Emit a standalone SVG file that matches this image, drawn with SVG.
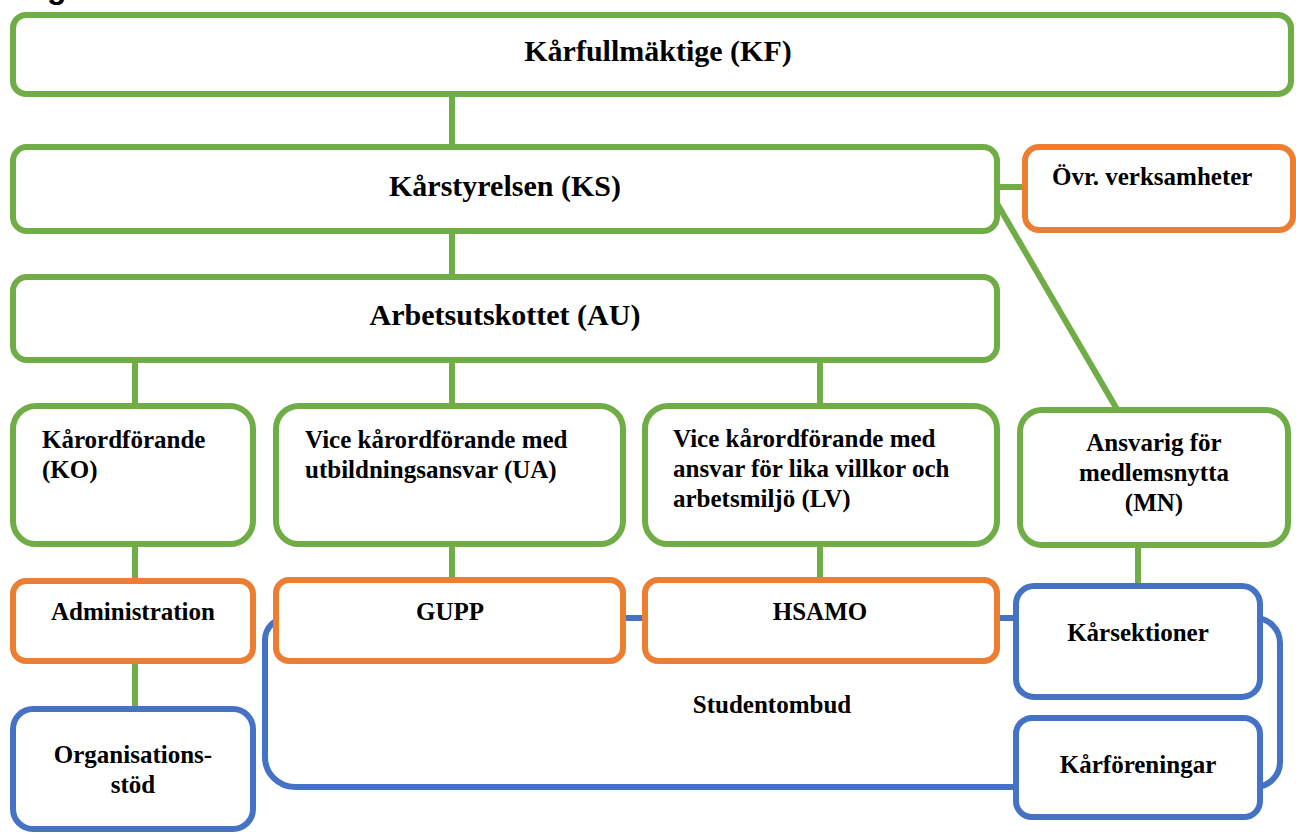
<svg xmlns="http://www.w3.org/2000/svg" width="1296" height="834" viewBox="0 0 1296 834">
<style>
.g{fill:#fff;stroke:#70AD47;stroke-width:6}
.o{fill:#fff;stroke:#ED7D31;stroke-width:6}
.b{fill:#fff;stroke:#4472C4;stroke-width:6}
.cg{fill:none;stroke:#70AD47;stroke-width:6}
.cb{fill:none;stroke:#4472C4;stroke-width:6}
text{font-family:"Liberation Serif","Times New Roman",serif;font-weight:bold;fill:#000;font-size:25px}
.big{font-size:30px}
.m{text-anchor:middle}
</style>
<text x="47" y="-2" style="font-family:'Liberation Sans',Arial,sans-serif;font-size:32px">g</text>
<g id="connectors">
<line class="cg" x1="452" y1="94" x2="452" y2="147"/>
<line class="cg" x1="452" y1="231" x2="452" y2="277"/>
<line class="cg" x1="135" y1="360" x2="135" y2="406"/>
<line class="cg" x1="452" y1="360" x2="452" y2="406"/>
<line class="cg" x1="820" y1="360" x2="820" y2="406"/>
<line class="cg" x1="997" y1="187" x2="1025" y2="187"/>
<line class="cg" x1="995" y1="200" x2="1118" y2="411"/>
<line class="cg" x1="135" y1="544" x2="135" y2="581"/>
<line class="cg" x1="135" y1="661" x2="135" y2="709"/>
<line class="cg" x1="452" y1="544" x2="452" y2="580"/>
<line class="cg" x1="820" y1="544" x2="820" y2="580"/>
<line class="cg" x1="1138" y1="545" x2="1138" y2="586"/>
<line class="cb" x1="623" y1="618" x2="645" y2="618"/>
<line class="cb" x1="997" y1="618" x2="1016" y2="618"/>
<path class="cb" d="M287,618 A22,22 0 0 0 265,640 L265,757 A30,30 0 0 0 295,787 L1016,787"/>
<path class="cb" d="M1250,618 L1255,618 A25,25 0 0 1 1280,643 L1280,762 A25,25 0 0 1 1255,787 L1250,787"/>
</g>
<g id="kf"><rect class="g" x="13" y="15" width="1278" height="79" rx="13"/><text class="big m" x="658" y="61">Kårfullmäktige (KF)</text></g>
<g id="ks"><rect class="g" x="13" y="147" width="984" height="84" rx="14"/><text class="big m" x="505" y="196">Kårstyrelsen (KS)</text></g>
<g id="ovr"><rect class="o" x="1025" y="147" width="268" height="83" rx="14"/><text x="1052" y="185">Övr. verksamheter</text></g>
<g id="au"><rect class="g" x="13" y="277" width="984" height="83" rx="14"/><text class="big m" x="505" y="325">Arbetsutskottet (AU)</text></g>
<g id="ko"><rect class="g" x="13" y="406" width="240" height="138" rx="23"/><text x="42" y="448">Kårordförande</text><text x="42" y="478">(KO)</text></g>
<g id="ua"><rect class="g" x="276" y="406" width="347" height="138" rx="23"/><text x="305" y="448">Vice kårordförande med</text><text x="305" y="478">utbildningsansvar (UA)</text></g>
<g id="lv"><rect class="g" x="645" y="406" width="352" height="138" rx="23"/><text x="673" y="447">Vice kårordförande med</text><text x="673" y="477">ansvar för lika villkor och</text><text x="673" y="507">arbetsmiljö (LV)</text></g>
<g id="mn"><rect class="g" x="1020" y="410" width="268" height="135" rx="22"/><text class="m" x="1154" y="451">Ansvarig för</text><text class="m" x="1154" y="481">medlemsnytta</text><text class="m" x="1154" y="511">(MN)</text></g>
<g id="admin"><rect class="o" x="13" y="581" width="240" height="80" rx="13"/><text class="m" x="133" y="620">Administration</text></g>
<g id="gupp"><rect class="o" x="276" y="580" width="347" height="81" rx="13"/><text class="m" x="450" y="620">GUPP</text></g>
<g id="hsamo"><rect class="o" x="645" y="580" width="352" height="81" rx="13"/><text class="m" x="820" y="620">HSAMO</text></g>
<g id="studentombud"><text class="m" x="772" y="713">Studentombud</text></g>
<g id="karsektioner"><rect class="b" x="1016" y="586" width="244" height="111" rx="18"/><text class="m" x="1138" y="641">Kårsektioner</text></g>
<g id="karforeningar"><rect class="b" x="1016" y="718" width="244" height="99" rx="16"/><text class="m" x="1138" y="773">Kårföreningar</text></g>
<g id="orgstod"><rect class="b" x="13" y="709" width="240" height="120" rx="20"/><text class="m" x="133" y="763">Organisations-</text><text class="m" x="133" y="793">stöd</text></g>
</svg>
